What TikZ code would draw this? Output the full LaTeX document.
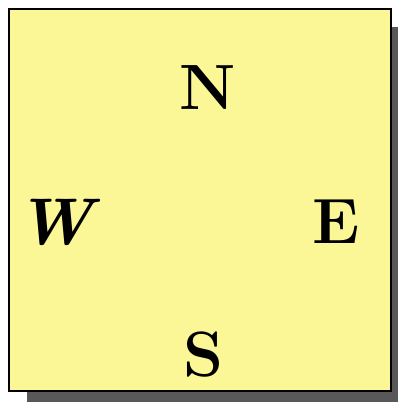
\documentclass[tikz,border=0pt]{standalone}
\begin{document}
\begin{tikzpicture}[x=1pt,y=-1pt,
  letter/.style={font=\fontsize{64}{64}\selectfont\bfseries, inner sep=0pt, anchor=center}]
\definecolor{padyellow}{RGB}{252,247,150}
\definecolor{shadowgray}{RGB}{88,88,88}
\useasboundingbox (0,0) rectangle (398,402);
\fill[shadowgray] (27,27) rectangle (398,402);
\draw[line width=2pt, fill=padyellow] (9,9) rectangle (391,391);
\node[letter] (n) at (208,88) {N};
\node[letter, font=\fontsize{66}{66}\selectfont\bfseries\itshape] (w) at (55,222) {W};
\node[letter] (e) at (336,222) {E};
\node[letter] (s) at (203,355) {S};
\end{tikzpicture}
\end{document}
